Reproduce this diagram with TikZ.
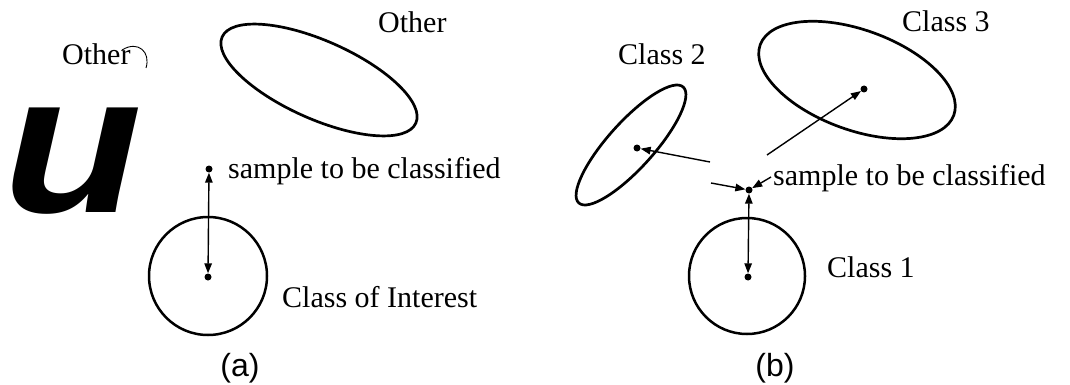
\documentclass[tikz,border=0pt]{standalone}
\usepackage{fontspec}
\setmainfont{Liberation Serif}
\newfontfamily\capfont{Liberation Sans}
\usetikzlibrary{arrows.meta,shapes.geometric}
\begin{document}
\begin{tikzpicture}[x=1pt,y=1pt,
  lbl/.style={anchor=base west, inner sep=0pt, font=\fontsize{30}{36}\selectfont},
  panellabel/.style={anchor=base, inner sep=0pt, font=\capfont\fontsize{32}{38}\selectfont},
  centredot/.style={circle, fill, inner sep=0pt, minimum size=7pt},
  regionoval/.style={draw, line width=2.7pt, inner sep=0pt, ellipse},
  regioncircle/.style={draw, line width=2.5pt, inner sep=0pt, circle},
  conn/.style={line width=1.4pt, -{Triangle[length=10pt,width=7.5pt]}},
  dbl/.style={line width=1.4pt, {Triangle[length=10pt,width=7.5pt]}-{Triangle[length=10pt,width=7.5pt]}},
]
\useasboundingbox (0,0) rectangle (1070,-385);

% ---------- panel (a) ----------
\node[regionoval, minimum width=212pt, minimum height=78pt, rotate=-24] (othera) at (319,-80) {};
\node[regioncircle, minimum size=118pt] (interest) at (208,-276) {};
\node[centredot] (sa) at (209,-169) {};
\node[centredot] (ca) at (208,-277) {};
\draw[dbl] (sa) -- (ca);

\node[anchor=base west, inner sep=0pt, font=\capfont\bfseries\itshape\fontsize{198}{198}\selectfont] (bigu) at (3,-212) {\scalebox{1.15}[1]{u}};
\node[lbl] (othl) at (62,-65) {Other};
\draw[line width=0.9pt] (122,-50) .. controls (138,-40) and (151,-52) .. (146,-68);
\node[lbl] (othr) at (378,-33) {Other};
\node[lbl] (sla) at (228,-178) {sample to be classified};
\node[lbl] (coi) at (282,-307) {Class of Interest};
\node[panellabel] (pa) at (240,-376) {(a)};

% ---------- panel (b) ----------
\node[regionoval, minimum width=206pt, minimum height=100pt, rotate=-20] (class3) at (857,-80) {};
\node[regionoval, minimum width=156pt, minimum height=46pt, rotate=48] (class2) at (631,-145) {};
\node[regioncircle, minimum size=116pt] (class1) at (747,-276) {};
\node[centredot] (sb) at (749,-190) {};
\node[centredot] (c1) at (748,-277) {};
\node[centredot] (c2) at (637,-148) {};
\node[centredot] (c3) at (864,-89) {};
\draw[dbl] (sb) -- (c1);
\coordinate (g1) at (710,-162);
\coordinate (g2) at (711,-183);
\coordinate (g3) at (767,-155);
\coordinate (g4) at (771,-177);
\draw[conn] (g1) -- (c2);
\draw[conn] (g2) -- (sb);
\draw[conn] (g3) -- (c3);
\draw[conn] (g4) -- (sb);

\node[lbl] (l2) at (618,-65) {Class 2};
\node[lbl] (l3) at (902,-32) {Class 3};
\node[lbl] (slb) at (773,-185) {sample to be classified};
\node[lbl] (l1) at (827,-277) {Class 1};
\node[panellabel] (pb) at (775,-376) {(b)};
\end{tikzpicture}
\end{document}
